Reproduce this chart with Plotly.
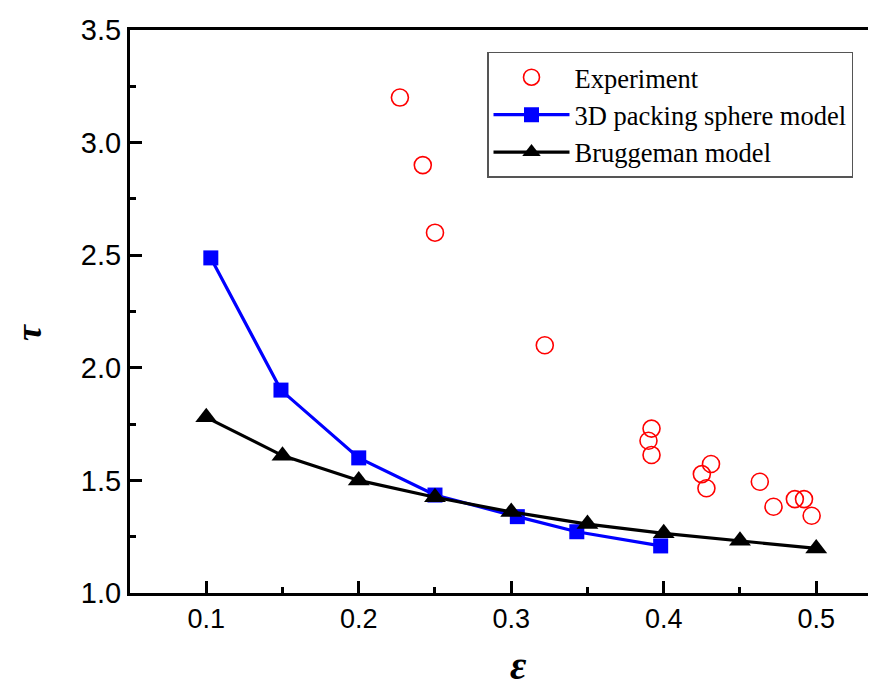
import plotly.graph_objects as go

# ---- data ----
exp_eps = [0.227, 0.242, 0.250, 0.322, 0.392, 0.390, 0.392, 0.431, 0.425, 0.428,
           0.463, 0.472, 0.486, 0.492, 0.497]
exp_tau = [3.20, 2.90, 2.60, 2.10, 1.73, 1.676, 1.613, 1.573, 1.528, 1.465,
           1.494, 1.383, 1.417, 1.417, 1.343]

sphere_eps = [0.103, 0.149, 0.200, 0.250, 0.304, 0.343, 0.398]
sphere_tau = [2.488, 1.901, 1.600, 1.435, 1.339, 1.272, 1.209]

brug_eps = [0.10, 0.15, 0.20, 0.25, 0.30, 0.35, 0.40, 0.45, 0.50]
brug_tau = [1.78, 1.61, 1.50, 1.425, 1.36, 1.306, 1.265, 1.232, 1.198]

x_tickvals = [0.1, 0.2, 0.3, 0.4, 0.5]
x_ticktext = ["0.1", "0.2", "0.3", "0.4", "0.5"]
y_tickvals = [1.0, 1.5, 2.0, 2.5, 3.0, 3.5]
y_ticktext = ["1.0", "1.5", "2.0", "2.5", "3.0", "3.5"]

fig = go.Figure()
fig.add_trace(go.Scatter(
    x=exp_eps, y=exp_tau, mode="markers", name="Experiment",
    marker=dict(symbol="circle-open", size=17, color="#FF0000", line=dict(width=1.6, color="#FF0000")),
))
fig.add_trace(go.Scatter(
    x=sphere_eps, y=sphere_tau, mode="lines+markers", name="3D packing sphere model",
    line=dict(color="#0000FF", width=3.2),
    marker=dict(symbol="square", size=15, color="#0000FF"),
))
fig.add_trace(go.Scatter(
    x=brug_eps, y=brug_tau, mode="lines+markers", name="Bruggeman model",
    line=dict(color="#000000", width=3.2),
    marker=dict(symbol="triangle-up", size=19, color="#000000"),
))

PW = 746  # plot width in px
fig.update_layout(
    width=868, height=679,
    margin=dict(l=122, r=0, t=22, b=94),
    paper_bgcolor="white", plot_bgcolor="white",
    showlegend=True,
    legend=dict(
        x=(487 - 130) / PW, y=0.961, xanchor="left", yanchor="top",
        bordercolor="#555555", borderwidth=1.5, bgcolor="white",
        font=dict(family="Liberation Serif, Times New Roman, serif", size=26.5, color="black"),
        itemwidth=76, tracegroupgap=0,
    ),
    xaxis=dict(
        range=[0.05, 0.5392], showgrid=False, zeroline=False,
        showline=True, linecolor="black", linewidth=3, mirror=True,
        ticks="inside", ticklen=12, tickwidth=2.5, tickcolor="black",
        tickvals=x_tickvals, ticktext=x_ticktext,
        tickfont=dict(family="Liberation Sans, Arial, sans-serif", size=27, color="black"),
        minor=dict(ticks="inside", ticklen=6, tickwidth=2.5, tickcolor="black", dtick=0.05, tick0=0.05, showgrid=False),
    ),
    yaxis=dict(
        range=[1.0, 3.5], showgrid=False, zeroline=False,
        showline=True, linecolor="black", linewidth=3, mirror=False,
        ticks="inside", ticklen=12, tickwidth=2.5, tickcolor="black",
        tickvals=y_tickvals, ticktext=y_ticktext,
        tickfont=dict(family="Liberation Sans, Arial, sans-serif", size=29, color="black"),
        minor=dict(ticks="inside", ticklen=6, tickwidth=2.5, tickcolor="black", dtick=0.25, tick0=1.0, showgrid=False),
    ),
    annotations=[
        dict(text="<b><i>ε</i></b>", xref="paper", yref="paper", x=(518 - 130) / PW, y=-0.128,
             xanchor="center", yanchor="middle", showarrow=False,
             font=dict(family="Liberation Serif, Times New Roman, serif", size=40, color="black")),
        dict(text="<b><i>τ</i></b>", xref="paper", yref="paper", x=(29 - 130) / PW, y=0.462,
             xanchor="center", yanchor="middle", showarrow=False, textangle=-90, height=30,
             font=dict(family="Liberation Serif, Times New Roman, serif", size=36, color="black")),
    ],
)

fig.write_html("out.html")
